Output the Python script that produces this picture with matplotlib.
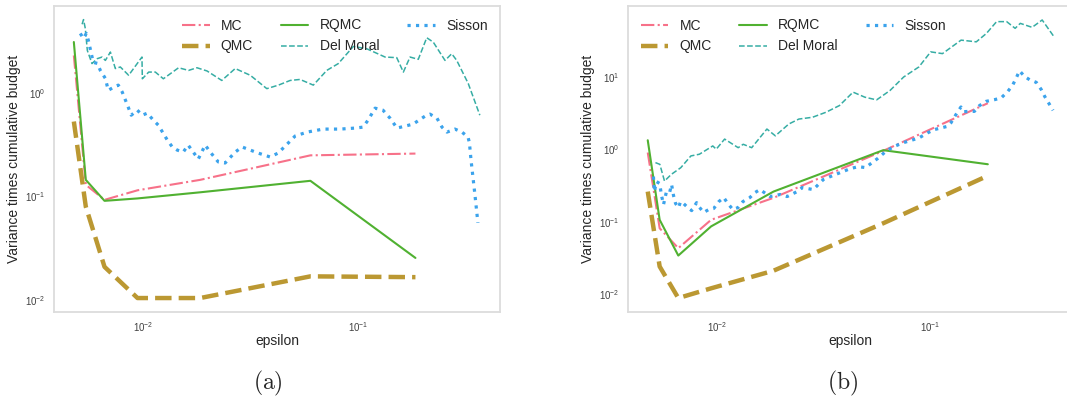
import matplotlib
matplotlib.use("Agg")
import matplotlib.pyplot as plt

plt.style.use("seaborn-v0_8-white")
plt.rcParams['font.family'] = ['Liberation Sans', 'DejaVu Sans']

# ---------------- data ----------------
eps_grid = [0.00475, 0.0054, 0.0066, 0.0094, 0.0184, 0.060, 0.185]

mc_a = [2.3, 0.13, 0.093, 0.115, 0.145, 0.25, 0.26]
qmc_a = [0.53, 0.08, 0.021, 0.0105, 0.0105, 0.017, 0.0167]
rqmc_a = [3.1, 0.145, 0.091, 0.096, 0.11, 0.142, 0.0256]

mc_b = [0.90, 0.081, 0.043, 0.106, 0.213, 0.95, 4.32]
qmc_b = [0.26, 0.024, 0.0088, 0.012, 0.021, 0.095, 0.43]
rqmc_b = [1.33, 0.106, 0.034, 0.086, 0.26, 0.97, 0.62]

delmoral_a_eps = [0.00519, 0.00527, 0.00537, 0.00549, 0.00577, 0.00610, 0.00643, 0.00666,
                  0.00703, 0.00741, 0.00782, 0.00855, 0.00986, 0.00990, 0.0106, 0.01138,
                  0.0124, 0.0146, 0.01625, 0.01778, 0.0198, 0.0232, 0.0268, 0.0315, 0.0376,
                  0.0426, 0.0483, 0.0537, 0.0619, 0.0715, 0.0809, 0.0951, 0.1097, 0.1336,
                  0.1514, 0.1625, 0.1746, 0.1907, 0.2088, 0.2240, 0.254, 0.273, 0.288,
                  0.326, 0.369]
delmoral_a = [4.6, 5.1, 4.2, 2.57, 1.92, 2.14, 2.22, 2.06, 2.48, 1.72, 1.78, 1.48, 2.22,
              1.37, 1.59, 1.59, 1.37, 1.75, 1.65, 1.75, 1.63, 1.32, 1.72, 1.48, 1.10, 1.19,
              1.32, 1.35, 1.19, 1.65, 1.92, 2.81, 2.67, 2.22, 2.19, 1.59, 2.22, 2.11, 3.41,
              3.09, 2.06, 2.39, 2.06, 1.23, 0.61]

sisson_a_eps = [0.00509, 0.00526, 0.00543, 0.00555, 0.00585, 0.00611, 0.00631, 0.00666,
                0.00687, 0.00725, 0.00765, 0.00798, 0.00851, 0.00879, 0.00938, 0.00989,
                0.01044, 0.01114, 0.01175, 0.01294, 0.01365, 0.01439, 0.01535, 0.01618,
                0.01708, 0.01803, 0.01942, 0.02050, 0.02234, 0.02405, 0.02679, 0.02886,
                0.03425, 0.03896, 0.04246, 0.04725, 0.05093, 0.05793, 0.06877, 0.08241,
                0.09683, 0.1054, 0.1113, 0.1200, 0.1306, 0.1409, 0.1518, 0.1803, 0.2050,
                0.2163, 0.2330, 0.2459, 0.2594, 0.2825, 0.3046, 0.3251, 0.3300, 0.3357,
                0.3501, 0.3614]
sisson_a = [3.75, 3.36, 3.75, 3.21, 1.97, 1.93, 1.65, 1.38, 1.06, 1.13, 1.19, 1.02, 0.729,
            0.610, 0.682, 0.610, 0.638, 0.546, 0.489, 0.351, 0.301, 0.281, 0.269, 0.314,
            0.269, 0.230, 0.314, 0.269, 0.216, 0.211, 0.269, 0.301, 0.263, 0.241, 0.263,
            0.328, 0.384, 0.419, 0.448, 0.448, 0.458, 0.468, 0.546, 0.713, 0.682, 0.571,
            0.458, 0.500, 0.597, 0.624, 0.571, 0.468, 0.419, 0.448, 0.419, 0.375, 0.33,
            0.225, 0.104, 0.0558]

delmoral_b_eps = [0.00516, 0.00541, 0.00569, 0.00612, 0.00678, 0.00756, 0.00828, 0.00957,
                  0.00993, 0.01087, 0.01258, 0.01328, 0.01455, 0.01714, 0.01877, 0.02170,
                  0.02419, 0.02799, 0.03238, 0.03744, 0.04334, 0.04921, 0.05586, 0.06457,
                  0.07473, 0.0881, 0.100, 0.1135, 0.1387, 0.1634, 0.1822, 0.2033, 0.2266,
                  0.2483, 0.2624, 0.2980, 0.3322, 0.3774]
delmoral_b = [0.653, 0.618, 0.363, 0.449, 0.556, 0.808, 0.852, 1.11, 1.0, 1.38, 1.05, 1.17,
              1.05, 1.90, 1.53, 2.23, 2.61, 2.76, 3.24, 4.01, 6.14, 5.23, 4.80, 6.48, 9.93,
              13.7, 22.1, 20.9, 32.1, 30.4, 39.7, 57.8, 57.8, 46.7, 54.7, 48.2, 60.9, 35.7]

sisson_b_eps = [0.00505, 0.00510, 0.00522, 0.00540, 0.00551, 0.00563, 0.00581, 0.00601,
                0.00614, 0.00627, 0.00641, 0.00662, 0.00676, 0.00698, 0.00722, 0.00762,
                0.00804, 0.00822, 0.00868, 0.00916, 0.00967, 0.01021, 0.01077, 0.01125,
                0.01188, 0.01254, 0.01323, 0.01427, 0.01507, 0.01590, 0.01773, 0.01976,
                0.02131, 0.02374, 0.02506, 0.02823, 0.03146, 0.03392, 0.03780, 0.04211,
                0.04592, 0.04955, 0.05640, 0.06152, 0.06708, 0.07473, 0.0882, 0.0966,
                0.1038, 0.1116, 0.1199, 0.1243, 0.1312, 0.1385, 0.1430, 0.1515, 0.1600,
                0.1689, 0.1816, 0.1986, 0.2135, 0.2296, 0.2423, 0.2512, 0.2602, 0.2748,
                0.2900, 0.3119, 0.3292, 0.3412, 0.3601, 0.3733]
sisson_b = [0.419, 0.260, 0.357, 0.336, 0.229, 0.172, 0.260, 0.252, 0.325, 0.229, 0.178,
            0.156, 0.189, 0.178, 0.162, 0.142, 0.183, 0.162, 0.134, 0.147, 0.152, 0.189,
            0.215, 0.178, 0.147, 0.156, 0.189, 0.215, 0.252, 0.277, 0.222, 0.237, 0.222,
            0.260, 0.295, 0.277, 0.381, 0.419, 0.476, 0.540, 0.575, 0.557, 0.742, 0.927,
            1.086, 1.233, 1.432, 1.678, 1.863, 1.967, 2.07, 2.31, 3.0, 3.83, 3.30, 3.33,
            3.33, 3.99, 4.58, 4.83, 5.10, 6.29, 7.78, 9.62, 12.1, 10.1, 9.12, 8.37, 6.64,
            5.37, 4.12, 3.44]

labels = ["MC", "QMC", "RQMC", "Del Moral", "Sisson"]
colors = ['#f77189', '#bb9832', '#50b131', '#36ada4', '#3ba3ec']

# ---------------- figure ----------------
W, H = 1067, 401
fig = plt.figure(figsize=(W / 100, H / 100), dpi=100)
ax1 = fig.add_axes([54 / W, 89 / H, 446 / W, 306 / H])
ax2 = fig.add_axes([628 / W, 89 / H, 444 / W, 306 / H])


def draw(ax, mc, qmc, rqmc, dm_e, dm, si_e, si, loc, ylim):
    ax.plot(eps_grid, mc, linestyle='-.', color=colors[0], lw=1.5, label=labels[0])
    ax.plot(eps_grid, qmc, linestyle='--', color=colors[1], lw=3.2, label=labels[1])
    ax.plot(eps_grid, rqmc, linestyle='-', color=colors[2], lw=1.5, label=labels[2])
    ax.plot(dm_e, dm, linestyle='--', color=colors[3], lw=1.1, label=labels[3])
    ax.plot(si_e, si, linestyle=':', color=colors[4], lw=2.3, label=labels[4])
    ax.set_xscale('log')
    ax.set_yscale('log')
    ax.set_xlim(0.00384, 0.458)
    ax.set_ylim(*ylim)
    ax.minorticks_off()
    ax.grid(False)
    for s in ax.spines.values():
        s.set_color('#dcdcdc')
        s.set_linewidth(1.3)
    ax.tick_params(length=0, labelsize=7, colors='0.25', pad=6)
    ax.set_xlabel('epsilon', fontsize=10, color='0.15', labelpad=0)
    ax.set_ylabel('Variance times cumulative budget', fontsize=10, color='0.15',
                  labelpad=3)
    ax.legend(loc=loc, ncol=3, fontsize=10, frameon=False, handlelength=2.0,
              columnspacing=2.0, borderaxespad=0.5)


draw(ax1, mc_a, qmc_a, rqmc_a, delmoral_a_eps, delmoral_a, sisson_a_eps, sisson_a,
     'upper right', (0.0077, 6.9))
draw(ax2, mc_b, qmc_b, rqmc_b, delmoral_b_eps, delmoral_b, sisson_b_eps, sisson_b,
     'upper left', (0.00565, 95))

fig.text(268 / W, 1 - 383 / H, r'$\mathrm{(a)}$', math_fontfamily='cm', fontsize=17,
         ha='center', va='center')
fig.text(843 / W, 1 - 383 / H, r'$\mathrm{(b)}$', math_fontfamily='cm', fontsize=17,
         ha='center', va='center')

fig.savefig('out.png', dpi=100)
